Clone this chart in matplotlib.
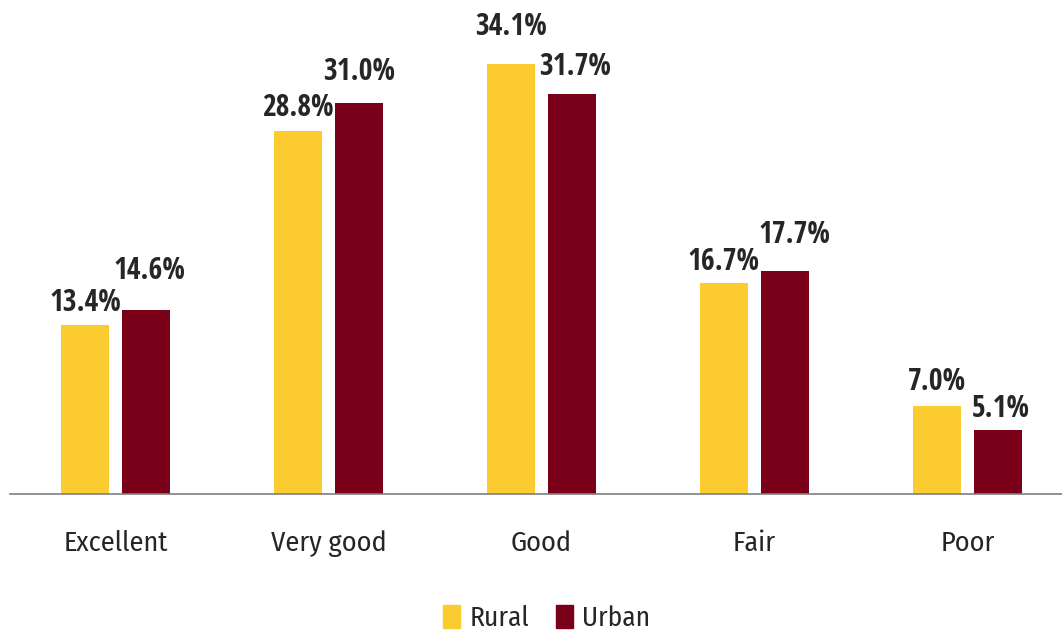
import matplotlib
matplotlib.use('Agg')
import matplotlib.pyplot as plt
from matplotlib import font_manager
import numpy as np
from matplotlib.patches import Patch

categories = ['Excellent', 'Very good', 'Good', 'Fair', 'Poor']
rural = [13.4, 28.8, 34.1, 16.7, 7.0]
urban = [14.6, 31.0, 31.7, 17.7, 5.1]
series_names = ['Rural', 'Urban']
colors = ['#FCCB30', '#7A0019']
text_color = '#262626'

# label nudges in pixels (dx, gap above bar), as placed in the original
rural_nudge = [(0, 14), (0, 15), (0, 29), (0, 13), (0, 16)]
urban_nudge = [(4, 31), (0, 23), (3, 19), (10, 28), (3, 13)]


def pick(prefs, weight):
    # first installed family that has a face near the wanted weight
    for p in prefs:
        for f in font_manager.fontManager.ttflist:
            w = f.weight if isinstance(f.weight, int) else font_manager.weight_dict.get(f.weight, 400)
            if f.name == p and abs(w - weight) <= 100 and f.style == 'normal':
                return p
    return 'DejaVu Sans'


cond = ['Open Sans Condensed', 'Fira Sans Condensed', 'Encode Sans Condensed',
        'Archivo Narrow', 'Asap Condensed', 'Barlow Semi Condensed', 'Liberation Sans Narrow']
bold_font = [pick(cond, 700), 'DejaVu Sans']
reg_font = [pick(cond, 400), 'DejaVu Sans']

fig = plt.figure(figsize=(10.62, 6.37), dpi=100)
ax = fig.add_axes([10 / 1062, 143 / 637, 1052 / 1062, 494 / 637])
r = fig.canvas.get_renderer()


def fit_size(s, px, family, weight='normal'):
    # font size that makes the string about px pixels wide
    t = fig.text(0, 0, s, fontsize=20, family=family, fontweight=weight)
    w = t.get_window_extent(renderer=r).width
    t.remove()
    return 20 * px / w


cat_size = fit_size('Excellent', 105, reg_font)
val_size = fit_size('13.4%', 72, bold_font, 'bold')
leg_size = fit_size('Urban', 68, reg_font)

x = np.arange(len(categories))
w = 0.225
off = 0.143
b1 = ax.bar(x - off, rural, w, color=colors[0])
b2 = ax.bar(x + off, urban, w, color=colors[1])

for bars, vals, nudge in [(b1, rural, rural_nudge), (b2, urban, urban_nudge)]:
    for b, v, (dx, dy) in zip(bars, vals, nudge):
        ax.annotate(f'{v:.1f}%', (b.get_x() + b.get_width() / 2, v),
                    xytext=(dx * 0.72, dy * 0.72), textcoords='offset points',
                    ha='center', va='baseline', fontsize=val_size, fontweight='bold',
                    family=bold_font, color=text_color)

ax.set_xlim(-0.495, 4.444)
ax.set_ylim(0, 39.17)
ax.set_yticks([])
ax.set_xticks(x)
ax.set_xticklabels(categories, fontsize=cat_size, color=text_color, family=reg_font)
ax.tick_params(axis='x', length=0, pad=26)
for s in ['top', 'right', 'left']:
    ax.spines[s].set_visible(False)
ax.spines['bottom'].set_color('#7f7f7f')
ax.spines['bottom'].set_linewidth(1.2)

handles = [Patch(color=c) for c in colors]
fig.legend(handles, series_names, loc='lower center', bbox_to_anchor=(0.515, -0.03),
           ncol=2, frameon=False, handlelength=0.6, handleheight=0.9,
           handletextpad=0.35, columnspacing=1.0, labelcolor=text_color,
           prop={'family': reg_font, 'size': leg_size})

fig.savefig('out.png', dpi=100)
